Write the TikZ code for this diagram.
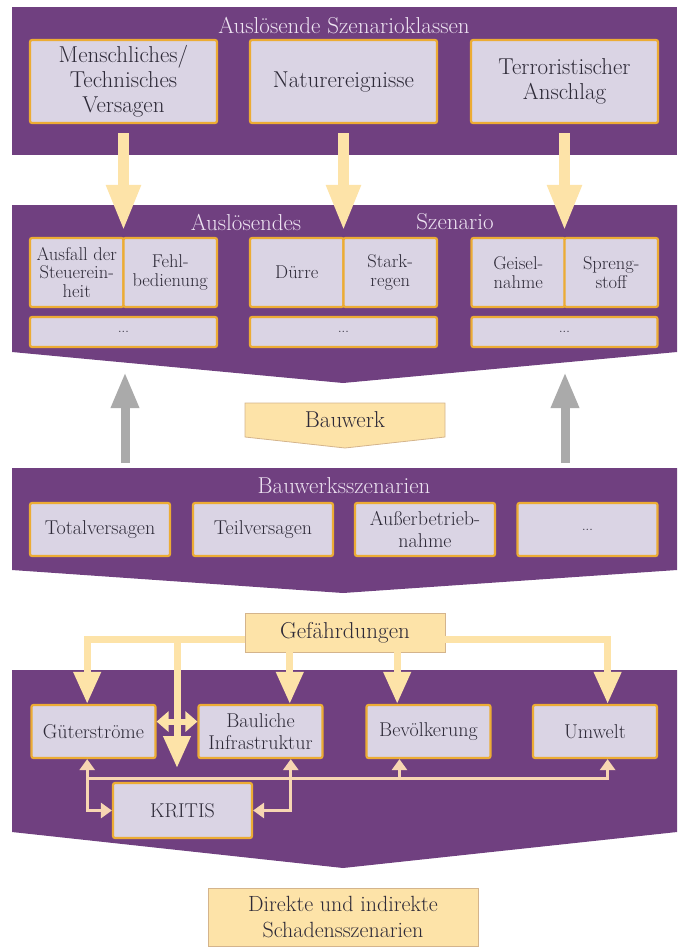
\documentclass[tikz,border=0pt]{standalone}
\usepackage{tikz}
\usetikzlibrary{arrows.meta,positioning,calc}

\definecolor{lila}{RGB}{112,64,128}
\definecolor{flieder}{RGB}{218,212,228}
\definecolor{gold}{RGB}{236,172,52}
\definecolor{creme}{RGB}{253,227,168}
\definecolor{cremerand}{RGB}{212,180,140}
\definecolor{hellgrau}{RGB}{170,170,170}
\definecolor{titelfarbe}{RGB}{238,228,242}
\definecolor{tinte}{RGB}{46,42,56}
\definecolor{linie}{RGB}{247,214,178}

\begin{document}
\begin{tikzpicture}[x=1pt,y=-1pt,
  kb/.style={draw=gold,line width=2.2pt,fill=flieder,rounded corners=2pt,inner sep=2pt,align=center,text=tinte,font=\fontsize{20}{22}\selectfont},
  kg/.style={draw=cremerand,line width=.8pt,fill=creme,inner sep=2pt,align=center,text=tinte,font=\fontsize{22}{26}\selectfont},
  tl/.style={text=titelfarbe,font=\fontsize{23}{24}\selectfont},
  yp/.style={draw=creme,line width=11pt,>={Triangle[width=32pt,length=46pt]}},
  yq/.style={draw=creme,line width=7pt,>={Triangle[width=26pt,length=32pt]}},
  gp/.style={draw=hellgrau,line width=9pt,>={Triangle[width=26pt,length=36pt]}},
  dl/.style={draw=linie,line width=3pt,>={Triangle[width=15pt,length=11pt]}}]
\useasboundingbox (0,0) rectangle (682,948);

% Baender
\fill[lila] (12,7) rectangle (677,155);
\fill[lila] (12,205) -- (677,205) -- (677,352) -- (343,383) -- (12,352) -- cycle;
\fill[lila] (12,468) -- (677,468) -- (677,570) -- (343,593) -- (12,570) -- cycle;
\fill[lila] (12,670) -- (677,670) -- (677,832) -- (343,868) -- (12,832) -- cycle;

% Szenarioklassen
\node[tl] (t1) at (344,26) {Auslösende Szenarioklassen};
\tikzset{kt/.style={kb,font=\fontsize{23}{25}\selectfont,minimum width=187pt,minimum height=83pt}}
\node[kt] (mensch) at (123.5,81.5) {Menschliches/\\Technisches\\Versagen};
\node[kt] (natur) at (343.5,81.5) {Naturereignisse};
\node[kt] (terror) at (564.5,81.5) {Terroristischer\\Anschlag};

% Ausloesendes Szenario
\node[tl] (t2a) at (246,222) {Auslösendes};
\node[tl] (t2b) at (455,222) {Szenario};
\tikzset{kk/.style={kb,font=\fontsize{18.5}{18.5}\selectfont,minimum width=93.5pt,minimum height=69pt}}
\node[kk] (ausfall) at (76.75,272.5) {Ausfall der\\Steuerein-\\heit};
\node[kk] (fehl) at (170.25,272.5) {Fehl-\\bedienung};
\node[kk] (duerre) at (296.75,272.5) {Dürre};
\node[kk] (stark) at (390.25,272.5) {Stark-\\regen};
\node[kk] (geisel) at (518.25,272.5) {Geisel-\\nahme};
\node[kk] (spreng) at (611.25,272.5) {Spreng-\\stoff};
\node[kb,font=\fontsize{13}{14}\selectfont,minimum width=187pt,minimum height=30pt] (restA) at (123.5,332) {...};
\node[kb,font=\fontsize{13}{14}\selectfont,minimum width=187pt,minimum height=30pt] (restB) at (343.5,332) {...};
\node[kb,font=\fontsize{13}{14}\selectfont,minimum width=186pt,minimum height=30pt] (restC) at (564.5,332) {...};

\draw[yp,->,shorten <=9pt,shorten >=6pt] (mensch.south) -- (mensch.south |- ausfall.north);
\draw[yp,->,shorten <=9pt,shorten >=6pt] (natur.south) -- (natur.south |- duerre.north);
\draw[yp,->,shorten <=9pt,shorten >=6pt] (terror.south) -- (terror.south |- geisel.north);

% Bauwerk
\filldraw[draw=cremerand,fill=creme,line width=.8pt] (245,403) -- (445,403) -- (445,437) -- (345,448) -- (245,437) -- cycle;
\node[text=tinte,font=\fontsize{23}{24}\selectfont] (bauwerk) at (345,420) {Bauwerk};
\coordinate (bwL) at (125,463);
\coordinate (asL) at (125,372);
\coordinate (bwR) at (565,463);
\coordinate (asR) at (565,372);
\draw[gp,->] (bwL) -- (asL);
\draw[gp,->] (bwR) -- (asR);

% Bauwerksszenarien
\node[tl] (t3) at (344,486) {Bauwerksszenarien};
\tikzset{kw/.style={kb,minimum width=140pt,minimum height=53pt}}
\node[kw] (total) at (100,529.5) {Totalversagen};
\node[kw] (teil) at (263,529.5) {Teilversagen};
\node[kw] (ausser) at (425,529.5) {Außerbetrieb-\\nahme};
\node[kw,font=\fontsize{13}{14}\selectfont] (restD) at (587.5,529.5) {...};

% Gefaehrdungen
\node[kg,font=\fontsize{23}{24}\selectfont,minimum width=200pt,minimum height=39pt] (gef) at (345,632.5) {Gefährdungen};
\tikzset{ks/.style={kb,minimum width=124pt,minimum height=53pt}}
\node[ks] (gueter) at (93.5,731.5) {Güterströme};
\node[ks] (baul) at (260.5,731.5) {Bauliche\\Infrastruktur};
\node[ks] (bevoelk) at (428.5,731.5) {Bevölkerung};
\node[ks] (umwelt) at (595,731.5) {Umwelt};
\node[kb,minimum width=139pt,minimum height=55pt] (kritis) at (182.5,810.5) {KRITIS};

% duenne Verbindungen
\coordinate (gu) at ($(gueter.south west)!.45!(gueter.south east)$);
\coordinate (bi) at ($(baul.south west)!.74!(baul.south east)$);
\coordinate (be) at ($(bevoelk.south west)!.27!(bevoelk.south east)$);
\coordinate (um) at ($(umwelt.south west)!.6!(umwelt.south east)$);
\coordinate (hl) at (0,778);
\draw[dl,->] (gu |- hl) -| (um);
\draw[dl,->] (be |- hl) -- (be);
\draw[dl,<->] (gu) |- (kritis.west);
\draw[dl,<->] (bi) |- (kritis.east);

% Pfeile der Gefaehrdungen
\coordinate (gl) at ($(gef.west)+(0,7)$);
\coordinate (gr) at ($(gef.east)+(0,7)$);
\coordinate (gn) at ($(gueter.north west)!.45!(gueter.north east)$);
\coordinate (un) at ($(umwelt.north west)!.6!(umwelt.north east)$);
\coordinate (ga) at ($(gef.south west)!.225!(gef.south east)$);
\coordinate (gb) at ($(gef.south west)!.76!(gef.south east)$);
\coordinate (kx) at (177,768);
\draw[yq,->] (gl) -| (gn);
\draw[yq,->] (gr) -| (un);
\draw[yq,->] (ga) -- (ga |- baul.north);
\draw[yq,->] (gb) -- (gb |- bevoelk.north);
\draw[yq,->] (kx |- gl) -- (kx);
\coordinate (dp) at ($(gueter.north east)!.32!(gueter.south east)$);
\draw[draw=creme,line width=6pt,{Triangle[width=20pt,length=12pt]}-{Triangle[width=20pt,length=12pt]}] (dp) -- (dp -| baul.west);

% Ergebnis
\node[kg,minimum width=270pt,minimum height=58pt] (schaden) at (343,917) {Direkte und indirekte\\Schadensszenarien};
\end{tikzpicture}
\end{document}
